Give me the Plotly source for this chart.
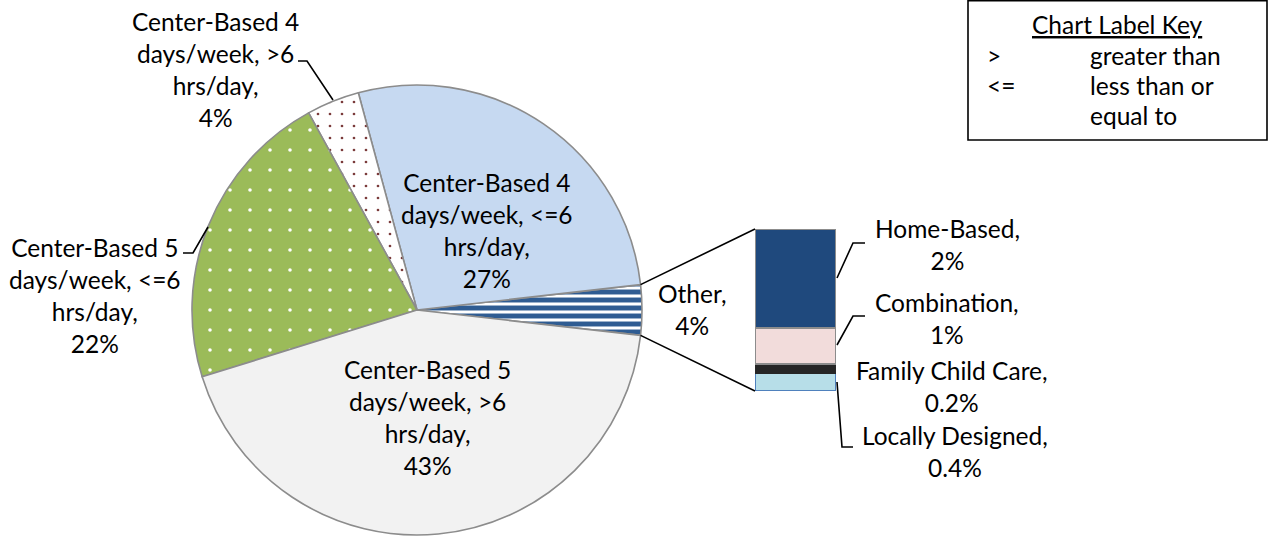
import math
import plotly.graph_objects as go

# ---------------- data ----------------
pie_labels = ["Other",
              "Center-Based 4 days/week, <=6 hrs/day",
              "Center-Based 4 days/week, >6 hrs/day",
              "Center-Based 5 days/week, <=6 hrs/day",
              "Center-Based 5 days/week, >6 hrs/day"]
pie_values = [3.6, 27.4, 3.8, 21.8, 43.4]
pie_text = ["Other,<br>4%",
            "Center-Based 4<br>days/week, <=6<br>hrs/day,<br>27%",
            "Center-Based 4<br>days/week, >6<br>hrs/day,<br>4%",
            "Center-Based 5<br>days/week, <=6<br>hrs/day,<br>22%",
            "Center-Based 5<br>days/week, >6<br>hrs/day,<br>43%"]

bar_labels = ["Locally Designed", "Family Child Care", "Combination", "Home-Based"]
bar_values = [0.4, 0.2, 0.8, 2.2]
bar_text = ["Locally Designed,<br>0.4%", "Family Child Care,<br>0.2%",
            "Combination,<br>1%", "Home-Based,<br>2%"]

key_title = "Chart Label Key"
key_symbols = [">", "<=", ""]
key_meanings = ["greater than", "less than or", "equal to"]

# ---------------- styling ----------------
W, H = 1271, 540
FONT = "Lato"
FS = 24.5
PIE_CX, PIE_CY, PIE_R = 417, 310, 225
BAR_X0, BAR_X1, BAR_Y0, BAR_Y1 = 755, 836, 229, 391

pie_colors = ["#FFFFFF", "#C6D9F1", "#FFFFFF", "#9BBB59", "#F2F2F2"]
pie_patterns = [dict(shape="-", fgcolor="#2F5C92", bgcolor="#FFFFFF", size=8, solidity=0.62),
                dict(shape=""),
                dict(shape=".", fgcolor="#7B3B3B", bgcolor="#FFFFFF", size=12, solidity=0.04),
                dict(shape=".", fgcolor="#FFFFFF", bgcolor="#9BBB59", size=20, solidity=0.025),
                dict(shape="")]
bar_colors = ["#B7DEE8", "#262626", "#F2DCDB", "#1F497D"]
bar_lines = ["#4F81BD", "#262626", "#8C8C8C", "#8C8C8C"]


def px(x):
    return x / W


def py(y):
    return 1 - y / H


fig = go.Figure()

total = sum(pie_values)
rotation = 90 - 180 * pie_values[0] / total
fig.add_trace(go.Pie(
    labels=pie_labels, values=pie_values, sort=False, direction="counterclockwise",
    rotation=rotation, textinfo="none", hoverinfo="label+percent",
    marker=dict(colors=pie_colors, pattern=dict(
        shape=[p.get("shape", "") for p in pie_patterns],
        fgcolor=[p.get("fgcolor", "#000") for p in pie_patterns],
        bgcolor=[p.get("bgcolor", c) for p, c in zip(pie_patterns, pie_colors)],
        size=[p.get("size", 8) for p in pie_patterns],
        solidity=[p.get("solidity", 0.3) for p in pie_patterns],
        fillmode="replace"),
        line=dict(color="#8C8C8C", width=1.6)),
    domain=dict(x=[px(PIE_CX - PIE_R), px(PIE_CX + PIE_R)],
                y=[py(PIE_CY + PIE_R), py(PIE_CY - PIE_R)]),
    showlegend=False,
))

for lab, val, col, lc in zip(bar_labels, bar_values, bar_colors, bar_lines):
    fig.add_trace(go.Bar(x=[0], y=[val], name=lab, width=1,
                         marker=dict(color=col, line=dict(color=lc, width=1.6)),
                         showlegend=False, hoverinfo="name+y"))

fig.update_layout(
    barmode="stack", width=W, height=H, margin=dict(l=0, r=0, t=0, b=0),
    paper_bgcolor="white", plot_bgcolor="rgba(0,0,0,0)",
    font=dict(family=FONT, size=FS, color="#000000"),
    xaxis=dict(domain=[px(BAR_X0), px(BAR_X1)], range=[-0.5, 0.5], visible=False, fixedrange=True),
    yaxis=dict(domain=[py(BAR_Y1), py(BAR_Y0)], range=[0, sum(bar_values)], visible=False, fixedrange=True),
)

# connector lines from the "Other" slice to the bar
half = math.pi * pie_values[0] / total
for sgn, by in ((1, BAR_Y0), (-1, BAR_Y1)):
    x0 = PIE_CX + PIE_R * math.cos(half)
    y0 = PIE_CY - sgn * PIE_R * math.sin(half)
    fig.add_shape(type="line", xref="paper", yref="paper",
                  x0=px(x0), y0=py(y0), x1=px(BAR_X0), y1=py(by),
                  line=dict(color="#000000", width=1.6))

# labels
ann = []
label_pos = [(692, 309), (487, 230), (215, 69), (95, 295), (427, 417)]
for t, (x, y) in zip(pie_text, label_pos):
    ann.append(dict(x=px(x), y=py(y), text=t))
bar_label_pos = [(955, 451), (952, 386), (947, 318), (947, 244)]
for t, (x, y) in zip(bar_text, bar_label_pos):
    ann.append(dict(x=px(x), y=py(y), text=t))
for a in ann:
    a.update(xref="paper", yref="paper", showarrow=False, xanchor="center", yanchor="middle",
             align="center", font=dict(family=FONT, size=FS, color="#000000"))
    fig.add_annotation(**a)

# leader lines
leaders = [[(298, 61), (307, 61), (333, 100)],
           [(183, 253), (193, 253), (208, 227)],
           [(865, 243), (853, 243), (837, 278)],
           [(865, 316), (853, 316), (837, 345)],
           [(853, 447), (842, 447), (837, 382)]]
for pts in leaders:
    path = "M " + " L ".join(f"{px(x)},{py(y)}" for x, y in pts)
    fig.add_shape(type="path", xref="paper", yref="paper", path=path,
                  line=dict(color="#000000", width=1.6))

# key box
fig.add_shape(type="rect", xref="paper", yref="paper",
              x0=px(968), y0=py(140), x1=px(1267), y1=py(0.8),
              line=dict(color="#000000", width=1.6), fillcolor="white", layer="below")
fig.add_annotation(x=px(1117), y=py(25), xref="paper", yref="paper", showarrow=False,
                   text=f"<u>{key_title}</u>", xanchor="center", yanchor="middle",
                   font=dict(family=FONT, size=FS))
for i, (s, m) in enumerate(zip(key_symbols, key_meanings)):
    yy = 55 + 30 * i
    if s:
        fig.add_annotation(x=px(985), y=py(yy), xref="paper", yref="paper", showarrow=False,
                           text=s, xanchor="left", yanchor="middle", font=dict(family=FONT, size=FS))
    fig.add_annotation(x=px(1088), y=py(yy), xref="paper", yref="paper", showarrow=False,
                       text=m, xanchor="left", yanchor="middle", font=dict(family=FONT, size=FS))

fig.write_html("out.html", config={"displayModeBar": False},
               post_script="document.body.style.margin='0';document.body.style.padding='0';")
